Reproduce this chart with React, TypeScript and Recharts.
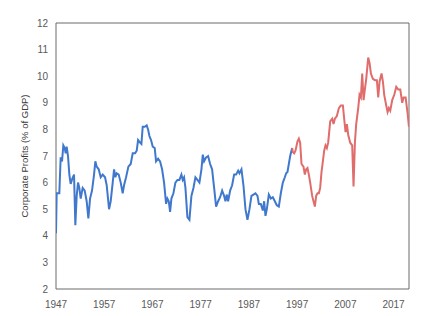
import React from "react";
import { LineChart, Line, XAxis, YAxis, ReferenceArea } from "recharts";

const blueYears = [
  1947.0, 1947.14, 1947.69, 1947.97, 1948.25, 1948.52, 1948.8, 1949.01, 1949.21, 1949.49, 1949.77,
  1950.04, 1950.39, 1950.74, 1951.01, 1951.29, 1951.57, 1951.84, 1952.12, 1952.53, 1952.95, 1953.36,
  1953.71, 1954.06, 1954.47, 1954.89, 1955.16, 1955.44, 1955.85, 1956.27, 1956.68, 1957.17, 1957.51,
  1958.0, 1958.34, 1958.76, 1959.04, 1959.31, 1959.59, 1960.0, 1960.42, 1960.83, 1961.11, 1961.53,
  1962.01, 1962.49, 1962.91, 1963.39, 1963.74, 1964.02, 1964.43, 1964.71, 1964.98, 1965.4, 1965.81,
  1966.09, 1966.37, 1966.71, 1967.06, 1967.47, 1967.75, 1968.17, 1968.58, 1969.0, 1969.41, 1969.83,
  1970.1, 1970.38, 1970.66, 1970.93, 1971.35, 1971.76, 1972.18, 1972.59, 1973.01, 1973.28, 1973.56,
  1973.84, 1974.25, 1974.67, 1975.08, 1975.5, 1975.91, 1976.33, 1976.74, 1977.16, 1977.44, 1977.71,
  1978.13, 1978.54, 1978.96, 1979.37, 1979.79, 1980.2, 1980.62, 1981.03, 1981.45, 1981.86, 1982.14,
  1982.42, 1982.69, 1983.11, 1983.52, 1983.94, 1984.35, 1984.77, 1985.04, 1985.46, 1985.87, 1986.29,
  1986.7, 1987.12, 1987.53, 1987.95, 1988.36, 1988.78, 1989.06, 1989.47, 1989.89, 1990.16, 1990.44,
  1990.72, 1991.13, 1991.55, 1991.96, 1992.38, 1992.79, 1993.21, 1993.62, 1994.04, 1994.45, 1994.73,
  1995.0, 1995.28, 1995.56, 1995.97,
];
const blueValues = [
  4.1, 5.6, 5.6, 6.95, 6.8, 7.4, 7.3, 7.1, 7.35, 7.0, 6.3,
  5.95, 6.15, 6.3, 4.4, 5.5, 6.0, 5.8, 5.4, 5.8, 5.7, 5.3,
  4.65, 5.4, 5.7, 6.3, 6.8, 6.6, 6.5, 6.2, 6.3, 6.2, 5.9,
  5.0, 5.3, 6.0, 6.5, 6.2, 6.35, 6.3, 6.0, 5.6, 5.9, 6.2,
  6.6, 6.7, 7.1, 7.1, 7.2, 7.6, 7.5, 7.45, 8.1, 8.1, 8.15,
  8.0, 7.75, 7.6, 7.35, 7.3, 6.8, 6.9, 6.8, 6.5, 6.0, 5.2,
  5.4, 5.3, 4.9, 5.4, 5.6, 6.0, 6.1, 6.1, 6.3, 6.1, 6.2,
  5.8, 4.7, 4.6, 5.5, 5.8, 6.2, 6.1, 6.0, 6.5, 7.05, 6.8,
  6.95, 7.0, 6.7, 6.5, 5.8, 5.1, 5.3, 5.45, 5.7, 5.5, 5.3,
  5.55, 5.3, 5.7, 5.9, 6.3, 6.3, 6.45, 6.35, 6.5, 5.9, 5.0,
  4.6, 5.0, 5.5, 5.55, 5.6, 5.5, 5.2, 5.2, 4.95, 5.3, 4.75,
  5.0, 5.55, 5.4, 5.45, 5.3, 5.15, 5.1, 5.6, 6.0, 6.2, 6.35,
  6.4, 6.7, 7.0, 7.3,
];

const redYears = [
  1995.97, 1996.11, 1996.39, 1996.66, 1997.08, 1997.36, 1997.63, 1997.91, 1998.32, 1998.6, 1998.88,
  1999.15, 1999.43, 1999.71, 2000.12, 2000.4, 2000.68, 2000.95, 2001.23, 2001.51, 2001.78, 2002.06,
  2002.34, 2002.61, 2002.89, 2003.17, 2003.44, 2003.86, 2004.27, 2004.55, 2004.83, 2005.24, 2005.66,
  2006.07, 2006.49, 2006.76, 2007.04, 2007.32, 2007.59, 2008.01, 2008.42, 2008.7, 2008.98, 2009.25,
  2009.67, 2009.94, 2010.22, 2010.5, 2010.78, 2011.05, 2011.33, 2011.74, 2012.02, 2012.3, 2012.71,
  2013.13, 2013.54, 2013.82, 2014.1, 2014.51, 2014.79, 2015.06, 2015.48, 2015.76, 2016.03, 2016.31,
  2016.72, 2017.14, 2017.56, 2017.97, 2018.39, 2018.8, 2019.08, 2019.5, 2019.91, 2020.19,
];
const redValues = [
  7.3, 7.15, 7.1, 7.2, 7.55, 7.65, 7.5, 6.7, 6.6, 6.3, 6.5,
  6.55, 6.3, 6.0, 5.5, 5.3, 5.1, 5.5, 5.6, 5.6, 5.8, 6.4,
  6.8, 7.2, 7.4, 7.3, 7.5, 8.3, 8.4, 8.2, 8.4, 8.5, 8.8,
  8.9, 8.9, 8.4, 7.9, 8.2, 7.8, 7.5, 7.4, 5.85, 7.5, 8.2,
  8.8, 9.3, 9.2, 10.1, 9.1, 9.5, 9.9, 10.7, 10.5, 10.1, 9.9,
  9.85, 9.85, 9.2, 9.8, 10.1, 9.8, 9.3, 8.9, 8.65, 8.8, 8.7,
  9.1, 9.3, 9.6, 9.5, 9.5, 9.0, 9.2, 9.2, 8.6, 8.1,
];

const xTicks = [1947, 1957, 1967, 1977, 1987, 1997, 2007, 2017];
const yTicks = [2, 3, 4, 5, 6, 7, 8, 9, 10, 11, 12];

const blueData = blueYears.map((year, i) => ({ year, value: blueValues[i] }));
const redData = redYears.map((year, i) => ({ year, value: redValues[i] }));

const FONT = "'Liberation Sans', Arial, sans-serif";
const tickStyle = { fontSize: 10, fill: "#595959", fontFamily: FONT };

export default function App() {
  return (
    <div style={{ position: "absolute", left: 0, top: 0, width: 440, height: 316, background: "#fff" }}>
      <LineChart width={440} height={316} margin={{ top: 23, right: 31, left: 0, bottom: 0 }}>
        <XAxis
          dataKey="year"
          type="number"
          domain={[1947, 2020.2]}
          ticks={xTicks}
          allowDataOverflow
          tickLine={false}
          axisLine={false}
          tickMargin={6}
          height={27}
          tick={tickStyle}
        />
        <YAxis
          type="number"
          domain={[2, 12]}
          ticks={yTicks}
          tickLine={false}
          axisLine={false}
          width={56}
          tick={tickStyle}
          label={{
            value: "Corporate Profits (% of GDP)",
            angle: -90,
            position: "insideLeft",
            offset: 0,
            dx: 25,
            dy: 0,
            style: { fontSize: 9.5, fill: "#3a3a3a", fontFamily: FONT, textAnchor: "middle" },
          }}
        />
        <ReferenceArea
          x1={1947}
          x2={2020.2}
          y1={2}
          y2={12}
          fill="none"
          stroke="#6b6b6b"
          strokeWidth={1}
          ifOverflow="visible"
        />
        <Line
          data={blueData}
          dataKey="value"
          type="linear"
          stroke="#3f78cc"
          strokeWidth={2}
          dot={false}
          isAnimationActive={false}
        />
        <Line
          data={redData}
          dataKey="value"
          type="linear"
          stroke="#e06c6c"
          strokeWidth={2}
          dot={false}
          isAnimationActive={false}
        />
      </LineChart>
    </div>
  );
}
